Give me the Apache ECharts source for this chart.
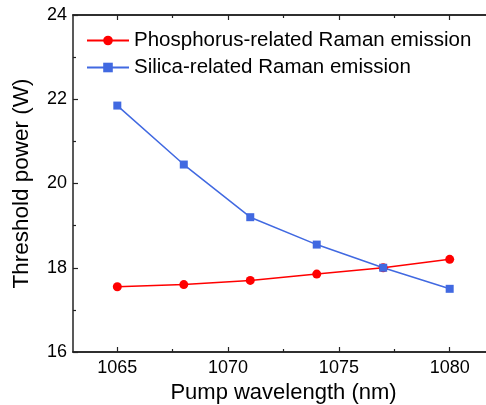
<!DOCTYPE html>
<html>
<head>
<meta charset="utf-8">
<script src="https://cdn.jsdelivr.net/npm/echarts@6/dist/echarts.min.js"></script>
<style>
html, body { margin: 0; padding: 0; background: #fff; }
#chart { width: 486px; height: 405px; }
</style>
</head>
<body>
<div id="chart"></div>
<script>
const wavelengths = [1065, 1068, 1071, 1074, 1077, 1080];
const phosphorus = [17.55, 17.6, 17.7, 17.85, 18.0, 18.2];
const silica = [21.85, 20.45, 19.2, 18.55, 18.0, 17.5];
const xMajorTicks = [1065, 1070, 1075, 1080];
const xMinorTicks = [1067.5, 1072.5, 1077.5];

const font = 'Liberation Sans, Arial, sans-serif';
const axisColor = '#222';

function xAxisDef(pos, ticks, len, labels) {
    return {
        type: 'value',
        position: pos,
        min: 1063,
        max: 1082,
        axisLine: {show: true, onZero: false, lineStyle: {color: axisColor, width: 1.5}},
        axisTick: {show: true, inside: true, length: len, customValues: ticks,
                   lineStyle: {color: axisColor, width: 1.2}},
        axisLabel: labels ? {show: true, customValues: ticks, color: '#000',
                             fontSize: 18, fontFamily: font, margin: 7,
                             formatter: v => String(v)} : {show: false},
        splitLine: {show: false}
    };
}

const xAxes = [
    Object.assign(xAxisDef('bottom', xMajorTicks, 5, true), {
        name: 'Pump wavelength (nm)',
        nameLocation: 'middle',
        nameGap: 29,
        nameTextStyle: {fontSize: 22, fontFamily: font, color: '#000'}
    }),
    xAxisDef('bottom', xMinorTicks, 3, false),
    xAxisDef('top', xMajorTicks, 5, false),
    xAxisDef('top', xMinorTicks, 3, false)
];

const option = {
    backgroundColor: '#fff',
    animation: false,
    grid: {left: 73, top: 15, bottom: 53, width: 421, outerBoundsMode: 'none', containLabel: false},
    legend: {
        orient: 'vertical',
        left: 86,
        top: 30,
        padding: 0,
        itemWidth: 42,
        itemHeight: 12,
        itemGap: 6,
        textStyle: {fontSize: 20.5, fontFamily: font, color: '#000'},
        data: ['Phosphorus-related Raman emission', 'Silica-related Raman emission']
    },
    xAxis: xAxes,
    yAxis: {
        type: 'value',
        min: 16,
        max: 24,
        interval: 2,
        name: 'Threshold power (W)',
        nameLocation: 'middle',
        nameGap: 40,
        nameTextStyle: {fontSize: 22.5, fontFamily: font, color: '#000', padding: [0, 0, 0, 0]},
        axisLine: {show: true, lineStyle: {color: axisColor, width: 1.5}},
        axisTick: {show: true, inside: true, length: 5, lineStyle: {color: axisColor, width: 1.2}},
        minorTick: {show: true, splitNumber: 2, length: 3, lineStyle: {color: axisColor, width: 1.2}},
        axisLabel: {color: '#000', fontSize: 18, fontFamily: font, margin: 6},
        splitLine: {show: false}
    },
    series: [
        {
            name: 'Phosphorus-related Raman emission',
            type: 'line',
            xAxisIndex: 0,
            data: wavelengths.map((w, i) => [w, phosphorus[i]]),
            symbol: 'circle',
            symbolSize: 9,
            color: '#ff0000',
            lineStyle: {color: '#ff0000', width: 1.5},
            itemStyle: {color: '#ff0000'}
        },
        {
            name: 'Silica-related Raman emission',
            type: 'line',
            xAxisIndex: 0,
            data: wavelengths.map((w, i) => [w, silica[i]]),
            symbol: 'rect',
            symbolSize: 8,
            color: '#4169e1',
            lineStyle: {color: '#4169e1', width: 1.5},
            itemStyle: {color: '#4169e1'}
        }
    ]
};

const chart = echarts.init(document.getElementById('chart'));
chart.setOption(option);
</script>
</body>
</html>
